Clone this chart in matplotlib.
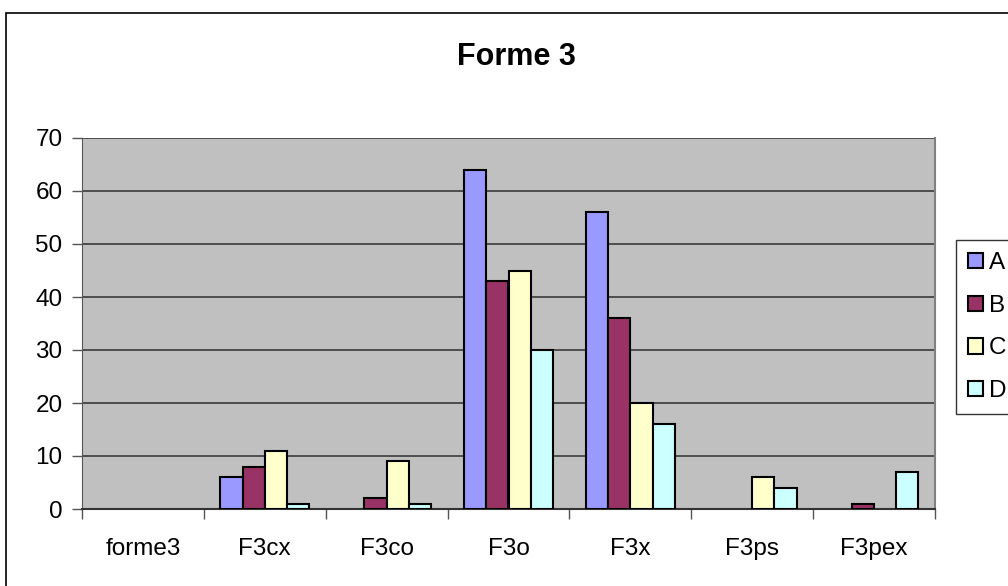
import numpy as np
import matplotlib.pyplot as plt
from matplotlib.patches import Rectangle, Patch

plt.rcParams['font.family'] = ['Liberation Sans', 'DejaVu Sans']

categories = ['forme3', 'F3cx', 'F3co', 'F3o', 'F3x', 'F3ps', 'F3pex']
series_names = ['A', 'B', 'C', 'D']
A = [0, 6, 0, 64, 56, 0, 0]
B = [0, 8, 2, 43, 36, 0, 1]
C = [0, 11, 9, 45, 20, 6, 0]
D = [0, 1, 1, 30, 16, 4, 7]
colors = ['#9999FF', '#993366', '#FFFFCC', '#CCFFFF']

fig = plt.figure(figsize=(10.08, 5.86), dpi=100)
# chart frame (runs off the right/bottom edge)
fig.patches.append(Rectangle((6 / 1008, -0.05), 1.1, 1 - 13 / 586 + 0.05,
                             transform=fig.transFigure, fill=False,
                             edgecolor='black', linewidth=1.2))

ax = fig.add_axes([82 / 1008, 77 / 586, 853 / 1008, 371 / 586])
ax.set_facecolor('#C0C0C0')

x = np.arange(len(categories))
w = 1 / 5.5
for i, vals in enumerate([A, B, C, D]):
    bars = ax.bar(x + (i - 1.5) * w, vals, width=w, color=colors[i],
                  edgecolor='black', linewidth=1.5, zorder=3)
    for b, v in zip(bars, vals):
        if v == 0:
            b.set_linewidth(0)

ax.set_xlim(-0.5, len(categories) - 0.5)
ax.set_ylim(0, 70)
ax.set_yticks(range(0, 71, 10))
ax.yaxis.grid(True, color='#3a3a3a', linewidth=1.2, zorder=1)
ax.set_axisbelow(True)

ax.set_xticks(x)
ax.set_xticklabels(categories, fontsize=17.5)
ax.tick_params(axis='x', length=0, pad=21)
ax.set_xticks(np.arange(-0.5, len(categories)), minor=True)
ax.tick_params(axis='x', which='minor', length=7, width=1, color='#555555')
ax.tick_params(axis='y', labelsize=17.5, length=7, width=1, color='#555555', pad=7)

ax.spines['top'].set_visible(False)
ax.spines['right'].set_color('#808080')
ax.spines['right'].set_linewidth(1.5)
ax.spines['left'].set_color('#555555')
ax.spines['bottom'].set_color('#333333')
ax.spines['bottom'].set_linewidth(1.5)

fig.text(516 / 1008, 1 - 57 / 586, 'Forme 3', ha='center', va='center',
         fontsize=22, fontweight='bold')

handles = [Patch(facecolor=c, edgecolor='black', linewidth=1.5) for c in colors]
leg = fig.legend(handles, series_names, loc='upper left',
                 bbox_to_anchor=(956 / 1008, 1 - 240 / 586),
                 fontsize=17.5, frameon=True, fancybox=False, edgecolor='black',
                 handlelength=0.6, handleheight=0.6, handletextpad=0.25,
                 labelspacing=0.85, borderpad=0.5, borderaxespad=0)
leg.get_frame().set_linewidth(1)

fig.savefig('out.png', dpi=100)
